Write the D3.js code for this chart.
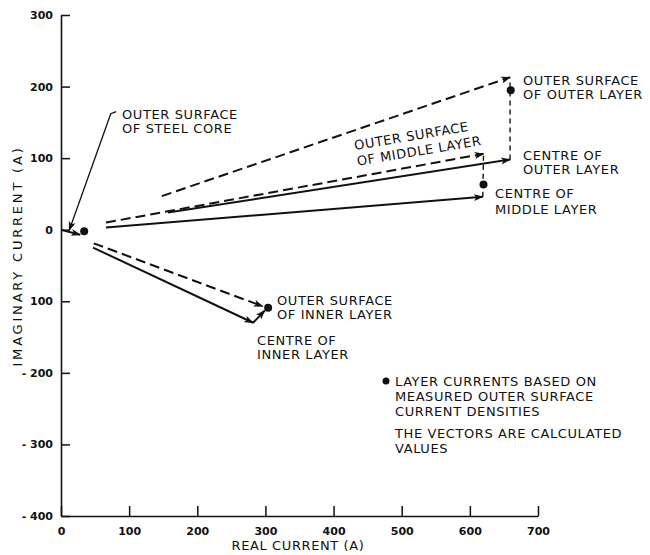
<!DOCTYPE html>
<html>
<head>
<meta charset="utf-8">
<script src="https://cdn.jsdelivr.net/npm/d3@7"></script>
<style>
  body { margin: 0; background: #fff; }
  text { font-family: "DejaVu Sans", sans-serif; fill: #111; }
</style>
</head>
<body>
<script>
// axis ticks
const xTicks = [0, 100, 200, 300, 400, 500, 600, 700];
const yTicks = [300, 200, 100, 0, -100, -200, -300, -400];
const yTickLabels = ["300", "200", "100", "0", "100", "- 200", "- 300", "- 400"];

// current vectors [real, imag] in A, drawn from start to tip
const vectorStart = [[0, 0], [47, -25], [48, -19], [66, 3], [66, 10], [157, 24], [148, 47]];
const vectorEnd = [[28, -7], [282, -130], [296, -107], [619, 46], [620, 106], [659, 98], [659, 213]];
const vectorDashed = [false, false, true, false, true, false, true];

// centre -> outer surface links
const linkStart = [[282, -130], [619, 46], [659, 98]];
const linkEnd = [[299, -113], [620, 104], [659, 211]];
const linkDashed = [false, true, true];

// measured layer currents (dots)
const dotRe = [34, 304, 620, 660];
const dotIm = [-2, -109, 63, 195];

// leader for the steel core note
const leader = [[81, 165], [73, 162], [12, -1]];

const width = 650, height = 555;
const svg = d3.select("body").append("svg")
  .attr("width", width)
  .attr("height", height);

const x = d3.scaleLinear().domain([0, 700]).range([61, 538]);
const y = d3.scaleLinear().domain([-400, 300]).range([516, 15]);

// arrowhead
svg.append("defs").append("marker")
  .attr("id", "head")
  .attr("viewBox", "0 -4 10 8")
  .attr("refX", 9)
  .attr("refY", 0)
  .attr("markerWidth", 10)
  .attr("markerHeight", 8)
  .attr("markerUnits", "userSpaceOnUse")
  .attr("orient", "auto")
  .append("path")
  .attr("d", "M0,-3.5L10,0L0,3.5L2.5,0Z")
  .attr("fill", "#111");

// axes
const xAxis = svg.append("g")
  .attr("transform", "translate(0," + y(-400) + ")")
  .call(d3.axisBottom(x).tickValues(xTicks).tickSize(-10).tickSizeOuter(0).tickPadding(11));
const yAxis = svg.append("g")
  .attr("transform", "translate(" + x(0) + ",0)")
  .call(d3.axisLeft(y).tickValues(yTicks).tickSize(-9).tickSizeOuter(0).tickPadding(8)
    .tickFormat((d, i) => yTickLabels[i]));

[xAxis, yAxis].forEach(g => {
  g.select(".domain").attr("stroke", "#111").attr("stroke-width", 1.6);
  g.selectAll(".tick line").attr("stroke", "#111").attr("stroke-width", 1.5);
  g.selectAll(".tick text")
    .style("font-family", "DejaVu Sans, sans-serif")
    .style("font-size", "11px")
    .style("font-weight", "bold")
    .attr("fill", "#111");
});

svg.append("text")
  .attr("x", 298)
  .attr("y", 550)
  .attr("text-anchor", "middle")
  .style("font-size", "13px")
  .style("letter-spacing", "0.6px")
  .text("REAL CURRENT (A)");

svg.append("text")
  .attr("transform", "translate(22,256) rotate(-90)")
  .attr("text-anchor", "middle")
  .style("font-size", "13px")
  .style("letter-spacing", "2.8px")
  .text("IMAGINARY CURRENT (A)");

// vectors
vectorStart.forEach((s, i) => {
  svg.append("line")
    .attr("x1", x(s[0]))
    .attr("y1", y(s[1]))
    .attr("x2", x(vectorEnd[i][0]))
    .attr("y2", y(vectorEnd[i][1]))
    .attr("stroke", "#111")
    .attr("stroke-width", 2)
    .attr("stroke-dasharray", vectorDashed[i] ? "10,5" : null)
    .attr("marker-end", "url(#head)");
});

linkStart.forEach((s, i) => {
  svg.append("line")
    .attr("x1", x(s[0]))
    .attr("y1", y(s[1]))
    .attr("x2", x(linkEnd[i][0]))
    .attr("y2", y(linkEnd[i][1]))
    .attr("stroke", "#111")
    .attr("stroke-width", linkDashed[i] ? 1.4 : 2)
    .attr("stroke-dasharray", linkDashed[i] ? "5,4" : null)
    .attr("marker-end", linkDashed[i] ? null : "url(#head)");
});

svg.append("path")
  .attr("d", d3.line().x(d => x(d[0])).y(d => y(d[1]))(leader))
  .attr("fill", "none")
  .attr("stroke", "#111")
  .attr("stroke-width", 1.3)
  .attr("marker-end", "url(#head)");

dotRe.forEach((re, i) => {
  svg.append("circle")
    .attr("cx", x(re))
    .attr("cy", y(dotIm[i]))
    .attr("r", 4)
    .attr("fill", "#111");
});

// notes
function note(lines, px, py, step) {
  lines.forEach((t, k) => {
    svg.append("text")
      .attr("x", px)
      .attr("y", py + k * step)
      .style("font-size", "13px")
      .style("letter-spacing", "0.6px")
      .text(t);
  });
}

note(["OUTER SURFACE", "OF STEEL CORE"], 122, 119, 14);
note(["OUTER SURFACE", "OF OUTER LAYER"], 523, 85, 14);
note(["CENTRE OF", "OUTER LAYER"], 523, 160, 14);
note(["CENTRE OF", "MIDDLE LAYER"], 495, 198, 16);
note(["OUTER SURFACE", "OF INNER LAYER"], 277, 305, 14);
note(["CENTRE OF", "INNER LAYER"], 257, 345, 14);

const rot = svg.append("g").attr("transform", "translate(355,150) rotate(-9.5)");
["OUTER SURFACE", "OF MIDDLE LAYER"].forEach((t, k) => {
  rot.append("text")
    .attr("x", 0)
    .attr("y", k * 16)
    .style("font-size", "13px")
    .style("letter-spacing", "0.6px")
    .text(t);
});

// legend
svg.append("circle").attr("cx", 386).attr("cy", 381).attr("r", 3.5).attr("fill", "#111");
note(["LAYER CURRENTS BASED ON", "MEASURED OUTER SURFACE", "CURRENT DENSITIES"], 395, 386, 15);
note(["THE VECTORS ARE CALCULATED", "VALUES"], 395, 438, 15);
</script>
</body>
</html>
